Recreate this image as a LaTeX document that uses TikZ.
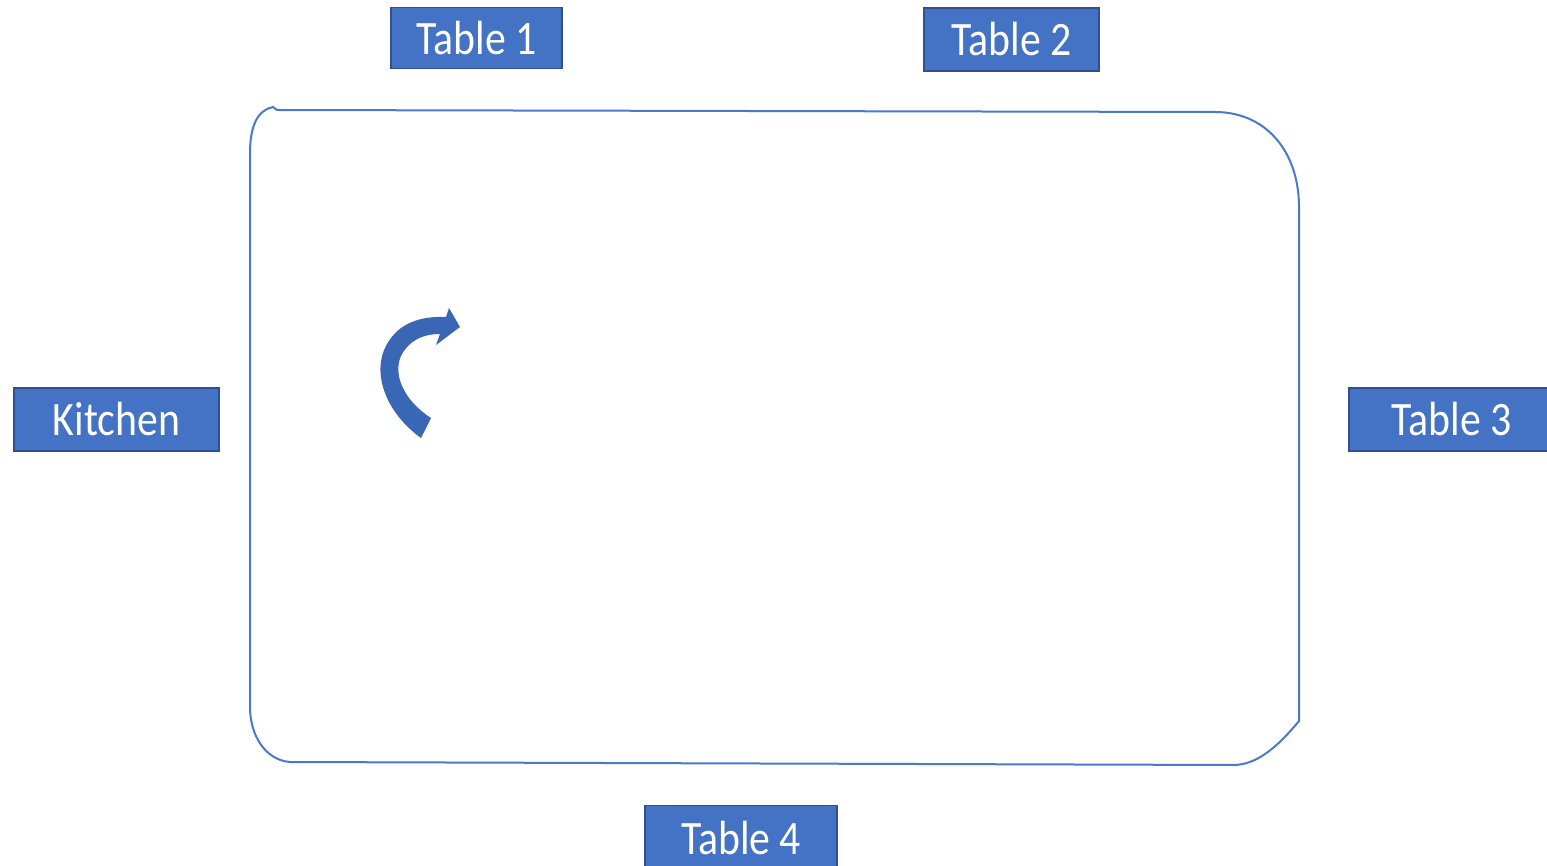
\documentclass[tikz,border=0pt]{standalone}
\usepackage{fontspec}
\setmainfont{Carlito}
\definecolor{boxfill}{HTML}{4472C4}
\definecolor{boxedge}{HTML}{2F528F}
\definecolor{linec}{HTML}{4A78CC}
\definecolor{arrowc}{HTML}{3A67B5}
\tikzset{
  lbl/.style={draw=boxedge, line width=1.2pt, fill=boxfill, text=white, inner sep=0pt,
    font=\fontsize{48}{54}\selectfont},
}
\newcommand{\sq}[1]{\scalebox{0.87}[1]{#1}}
\begin{document}
\begin{tikzpicture}[x=1pt,y=-1pt]
\useasboundingbox (0,0) rectangle (1547,866);
% path loop
\draw[linec, line width=2pt, line join=round]
  (277,110) -- (1215,112) .. controls (1265,112) and (1298,150) .. (1299,205)
  -- (1299,721) .. controls (1275,750) and (1255,765) .. (1233,765)
  -- (290,762) .. controls (265,760) and (250,735) .. (250,707)
  -- (250,153) .. controls (250,125) and (258,110) .. (273,107) -- cycle;
% labels
\node[lbl, minimum width=171pt, minimum height=61pt] (t1) at (476.5,38) {\sq{Table 1}};
\node[lbl, minimum width=175pt, minimum height=63pt] (t2) at (1011.5,39.5) {\sq{Table 2}};
\node[lbl, minimum width=205pt, minimum height=63pt] (k) at (116.5,419.5) {\sq{Kitchen}};
\node[lbl, minimum width=205pt, minimum height=63pt] (t3) at (1451.5,419.5) {\sq{Table 3}};
\node[lbl, minimum width=192pt, minimum height=64pt, anchor=north] (t4) at (741,805) {\sq{Table 4}};
% curved arrow
\fill[arrowc]
  (421,438) .. controls (385,412) and (371,372) .. (387,344)
  .. controls (399,323) and (420,316) .. (446,317)
  -- (449,308) -- (460,327) -- (436,345) -- (440,334)
  .. controls (421,334) and (408,342) .. (401,356)
  .. controls (393,374) and (403,400) .. (431,418) -- cycle;
\end{tikzpicture}
\end{document}
